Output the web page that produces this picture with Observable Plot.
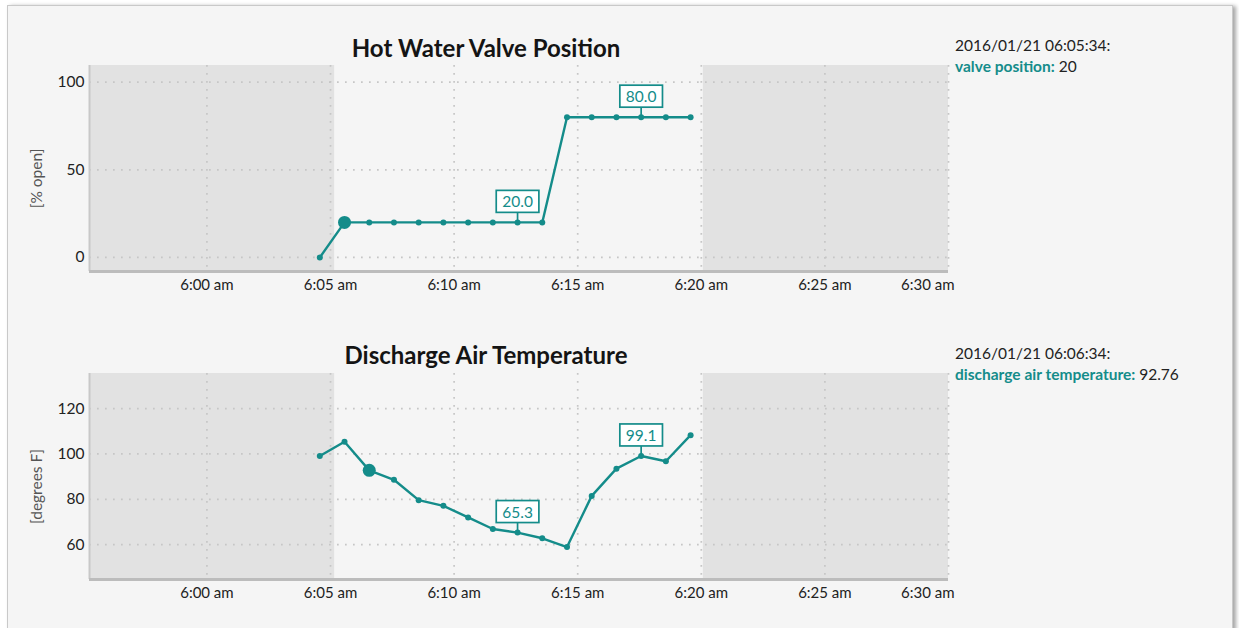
<!DOCTYPE html>
<html>
<head>
<meta charset="utf-8">
<script src="https://cdn.jsdelivr.net/npm/d3@7"></script>
<script src="https://cdn.jsdelivr.net/npm/@observablehq/plot@0.6"></script>
<style>
  html, body { margin: 0; padding: 0; background: #ffffff; font-family: Lato, "Open Sans", sans-serif; }
  body { width: 1239px; height: 628px; position: relative; overflow: hidden; }
  #frame { position: absolute; left: 7px; top: 5px; width: 1224px; height: 700px; background: #f5f5f5;
           border: 1px solid #c9c9c9; box-shadow: 3px 1px 4px rgba(0,0,0,0.35); }
  .title { position: absolute; left: 286px; width: 400px; text-align: center; font-weight: bold;
           font-size: 24px; line-height: 24px; color: #141414; }
  .side { position: absolute; left: 955px; font-size: 15.5px; line-height: 21px; color: #222; white-space: nowrap; }
  .side b { color: #148c8a; }
  .chart { position: absolute; left: 0; }
</style>
</head>
<body>
<div id="frame"></div>
<div id="root"></div>
<script>
// ---- data ----
const times = ["06:04:34","06:05:34","06:06:34","06:07:34","06:08:34","06:09:34","06:10:34","06:11:34",
               "06:12:34","06:13:34","06:14:34","06:15:34","06:16:34","06:17:34","06:18:34","06:19:34"];
const valvePosition = [0, 20, 20, 20, 20, 20, 20, 20, 20, 20, 80, 80, 80, 80, 80, 80];
const dischargeAirTemp = [99.1, 105.4, 92.76, 88.6, 79.6, 77.1, 72.0, 66.9, 65.3, 62.8, 58.9, 81.5, 93.5, 99.1, 96.8, 108.3];

const xTickTimes = ["06:00","06:05","06:10","06:15","06:20","06:25","06:30"];
const xTickLabels = ["6:00 am","6:05 am","6:10 am","6:15 am","6:20 am","6:25 am","6:30 am"];
const xDomainTimes = ["05:55:15", "06:30:00"];
const shadeBefore = "06:05:10";
const shadeAfter = "06:20:05";

const valveTicks = [0, 50, 100];
const tempTicks = [60, 80, 100, 120];
const valveDomain = [-8, 109.5];
const tempDomain = [44.6, 135.5];

const valveLabelTimes = ["06:12:34", "06:17:34"];
const valveLabelTexts = ["20.0", "80.0"];
const tempLabelTimes = ["06:12:34", "06:17:34"];
const tempLabelTexts = ["65.3", "99.1"];

const valveHighlightTime = "06:05:34";
const tempHighlightTime = "06:06:34";

const titles = ["Hot Water Valve Position", "Discharge Air Temperature"];
const yLabels = ["[% open]", "[degrees F]"];
const readoutStamps = ["2016/01/21 06:05:34:", "2016/01/21 06:06:34:"];
const readoutNames = ["valve position", "discharge air temperature"];
const readoutValues = ["20", "92.76"];

// ---- helpers ----
const TEAL = "#148c8a";
const parse = t => new Date(`2016-01-21T${t.length === 5 ? t + ":00" : t}Z`);
const xTickDates = xTickTimes.map(parse);
const fmtTick = d => xTickLabels[xTickDates.findIndex(t => +t === +d)];

function panel({values, yDomain, yTicks, yLabel, labelTimes, labelTexts, hlTime}) {
  const data = times.map((t, i) => ({t: parse(t), v: values[i]}));
  const labels = labelTimes.map((t, i) => {
    const d = data.find(e => +e.t === +parse(t));
    return {t: d.t, v: d.v, text: labelTexts[i]};
  });
  const hl = data.filter(d => +d.t === +parse(hlTime));
  const x0 = parse(xDomainTimes[0]), x1 = parse(xDomainTimes[1]);
  const shades = [{a: x0, b: parse(shadeBefore)}, {a: parse(shadeAfter), b: x1}];
  const grid = {stroke: "#c6c6c6", strokeOpacity: 1, strokeWidth: 1.7, strokeDasharray: "1.7,6.3"};
  return Plot.plot({
    width: 960, height: 246,
    marginLeft: 89, marginRight: 12, marginTop: 5, marginBottom: 35,
    style: {background: "transparent", fontFamily: "Lato, sans-serif", fontSize: "15px", color: "#222", overflow: "visible"},
    x: {type: "utc", domain: [x0, x1], label: null},
    y: {domain: yDomain, label: null},
    marks: [
      Plot.rect(shades, {x1: "a", x2: "b", fill: "#e2e2e2"}),
      Plot.gridX(xTickDates, grid),
      Plot.gridY(yTicks, grid),
      Plot.ruleX([x0], {stroke: "#c8c8c8", strokeWidth: 2}),
      Plot.ruleY([yDomain[0]], {stroke: "#bcbcbc", strokeWidth: 3}),
      Plot.axisY(yTicks, {tickSize: 0, tickPadding: 5, label: null, fill: "#222", fontSize: 15.5}),
      Plot.text([yLabel], {text: d => d, frameAnchor: "left", textAnchor: "middle", rotate: -90, dx: -52, dy: 10, fill: "#555", fontSize: 15.5}),
      Plot.axisX(xTickDates.slice(0, -1), {tickSize: 0, tickPadding: 8, tickFormat: fmtTick, label: null, fill: "#222"}),
      Plot.axisX(xTickDates.slice(-1), {tickSize: 0, tickPadding: 8, tickFormat: fmtTick, label: null, textAnchor: "end", dx: 6, fill: "#222"}),
      Plot.line(data, {x: "t", y: "v", stroke: TEAL, strokeWidth: 2.4}),
      Plot.dot(data, {x: "t", y: "v", r: 3, fill: TEAL}),
      Plot.dot(hl, {x: "t", y: "v", r: 6.5, fill: TEAL}),
      Plot.text(labels, {x: "t", y: "v", text: "text", dy: -20, fill: TEAL, fontSize: 15.5, ariaDescription: "value-label"})
    ]
  });
}

function boxLabels(svg) {
  const ns = "http://www.w3.org/2000/svg";
  svg.querySelectorAll('g[aria-description="value-label"] text').forEach(tx => {
    const bb = tx.getBBox();
    const cx = bb.x + bb.width / 2, cy = bb.y + bb.height / 2;
    const w = bb.width + 12, h = 22;
    const rect = document.createElementNS(ns, "rect");
    rect.setAttribute("x", cx - w / 2);
    rect.setAttribute("y", cy - h / 2);
    rect.setAttribute("width", w);
    rect.setAttribute("height", h);
    rect.setAttribute("fill", "#ffffff");
    rect.setAttribute("stroke", TEAL);
    rect.setAttribute("stroke-width", 1.7);
    if (tx.getAttribute("transform")) rect.setAttribute("transform", tx.getAttribute("transform"));
    const ln = document.createElementNS(ns, "line");
    ln.setAttribute("x1", cx); ln.setAttribute("x2", cx);
    ln.setAttribute("y1", cy + h / 2); ln.setAttribute("y2", cy + h / 2 + 9);
    ln.setAttribute("stroke", TEAL);
    ln.setAttribute("stroke-width", 1.7);
    if (tx.getAttribute("transform")) ln.setAttribute("transform", tx.getAttribute("transform"));
    tx.parentNode.insertBefore(ln, tx);
    tx.parentNode.insertBefore(rect, tx);
  });
}

const root = document.getElementById("root");
const configs = [
  {values: valvePosition, yDomain: valveDomain, yTicks: valveTicks, yLabel: yLabels[0],
   labelTimes: valveLabelTimes, labelTexts: valveLabelTexts, hlTime: valveHighlightTime, top: 60, titleTop: 36, sideTop: 34.5},
  {values: dischargeAirTemp, yDomain: tempDomain, yTicks: tempTicks, yLabel: yLabels[1],
   labelTimes: tempLabelTimes, labelTexts: tempLabelTexts, hlTime: tempHighlightTime, top: 368, titleTop: 343, sideTop: 342.5}
];
configs.forEach((c, i) => {
  const title = document.createElement("div");
  title.className = "title";
  title.style.top = c.titleTop + "px";
  title.textContent = titles[i];
  root.appendChild(title);

  const side = document.createElement("div");
  side.className = "side";
  side.style.top = c.sideTop + "px";
  side.innerHTML = `${readoutStamps[i]}<br><b>${readoutNames[i]}:</b> ${readoutValues[i]}`;
  root.appendChild(side);

  const wrap = document.createElement("div");
  wrap.className = "chart";
  wrap.style.top = c.top + "px";
  const svg = panel(c);
  wrap.appendChild(svg);
  root.appendChild(wrap);
  boxLabels(svg);
});
</script>
</body>
</html>
